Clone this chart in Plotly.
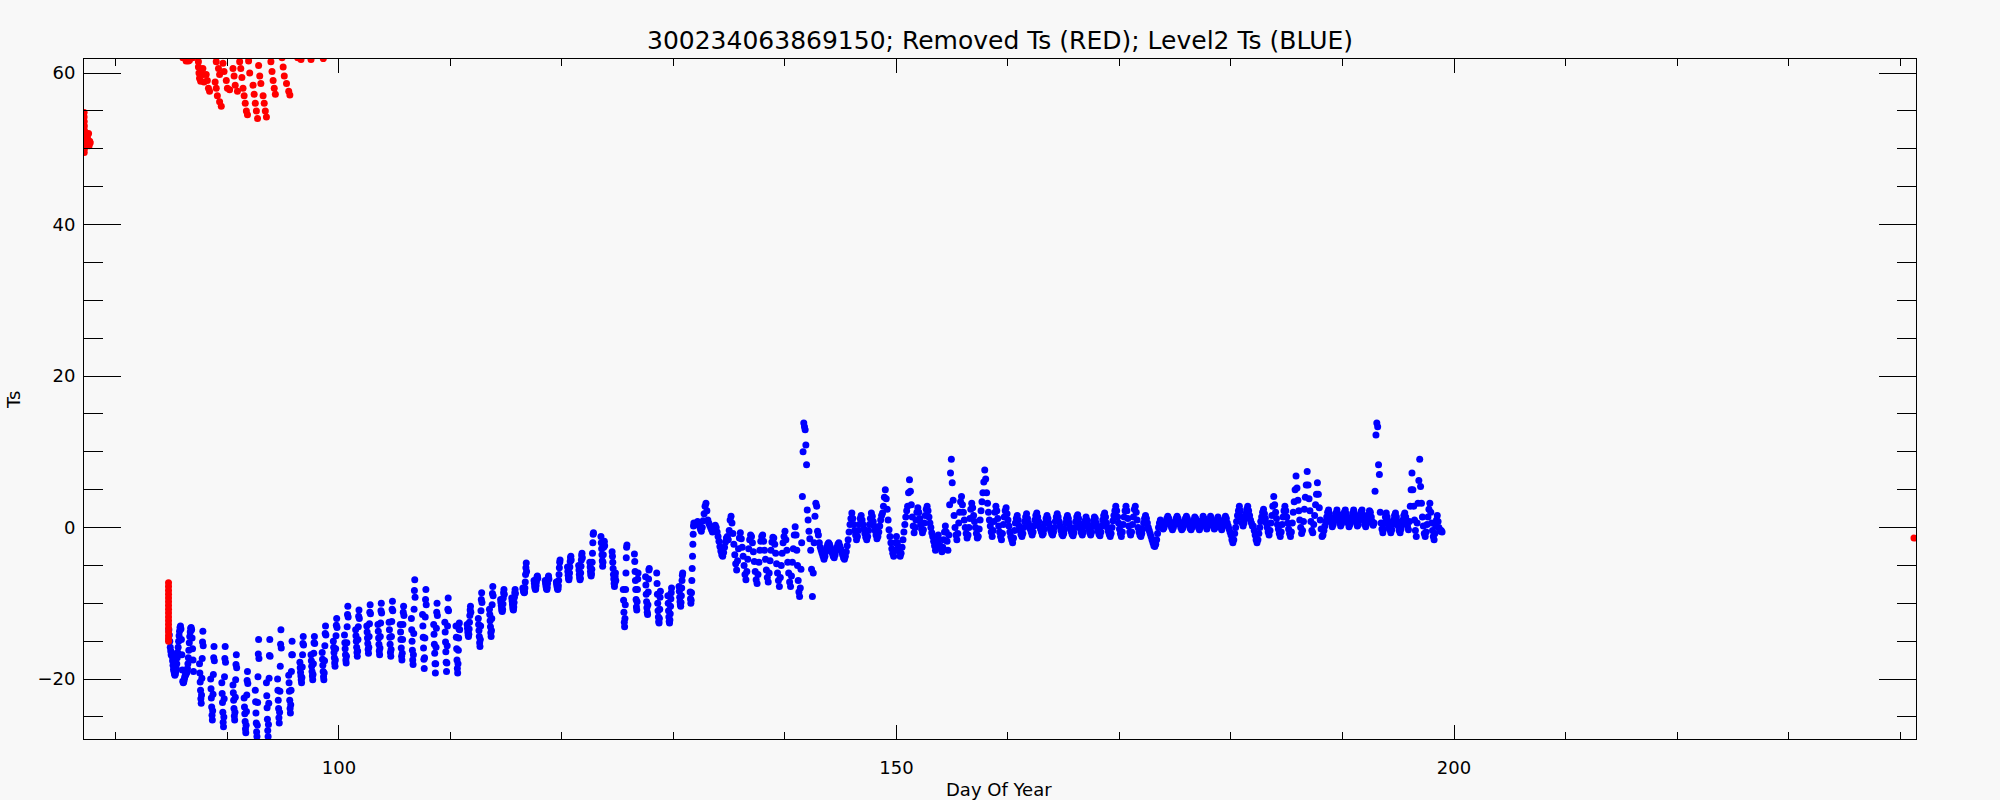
import math
import plotly.graph_objects as go

# ---------------- data ----------------
# Level2 Ts (blue): start day of each (partial) day, and the readings of that day
# block 0: continuous hourly record at the start
blue_days_0 = [84.75, 85, 86]
blue_ts_0 = [
    [-13.5, -14.2, -15.0, -15.8, -16.3, -16.8],
    [-16.5, -17.0, -17.6, -18.2, -18.7, -19.0, -19.3, -19.5, -19.3, -19.0, -18.6, -18.0,
     -17.2, -16.5, -15.8, -15.0, -14.3, -13.7, -13.2, -13.0, -13.4, -14.8, -16.8, -18.8],
    [-20.3, -20.5, -20.4, -20.1, -19.8, -19.6, -19.4, -19.3, -19.2, -19.0, -18.6, -18.0,
     -17.2, -16.2, -15.2, -14.4, -13.8, -13.3, -13.2, -13.5, -14.6, -16.0, -17.5, -19.0],
]

# blocks 1-2: readings arrive in daily bursts
blue_days_1 = [87, 88, 89, 90, 91, 92, 93, 94, 95, 96, 97, 98, 99, 100, 101, 102, 103, 104]
blue_ts_1 = [
    [-18.0, -19.2, -20.4, -21.5, -22.6, -23.2, -22.1, -19.9, -17.3, -15.1, -13.7, -15.6],
    [-20.0, -21.3, -22.5, -23.7, -24.8, -25.4, -24.2, -22.0, -19.4, -17.2, -15.7, -17.6],
    [-20.5, -21.9, -23.1, -24.4, -25.7, -26.3, -25.0, -22.6, -19.7, -17.3, -15.7, -17.8],
    [-20.8, -21.8, -22.8, -23.9, -24.9, -25.4, -24.4, -22.4, -20.1, -18.1, -16.8, -18.5],
    [-22.5, -23.7, -24.6, -25.6, -26.6, -27.1, -26.1, -24.3, -22.1, -20.2, -19.0, -20.6],
    [-21.5, -23.0, -24.5, -25.8, -27.0, -27.6, -26.1, -23.1, -19.7, -16.7, -14.8, -17.3],
    [-20.5, -22.2, -23.8, -25.3, -26.8, -27.6, -26.0, -23.2, -19.9, -16.9, -14.8, -17.0],
    [-20.0, -21.5, -22.8, -23.9, -25.1, -25.8, -24.4, -21.6, -18.3, -15.4, -13.5, -15.9],
    [-19.5, -20.5, -21.6, -22.8, -23.9, -24.5, -23.4, -21.5, -19.0, -16.8, -15.0, -16.8],
    [-17.8, -18.5, -19.1, -19.6, -20.1, -20.5, -19.8, -18.4, -16.8, -15.3, -14.4, -15.5],
    [-16.8, -17.6, -18.3, -19.0, -19.6, -20.1, -19.4, -18.0, -16.6, -15.2, -14.4, -15.3],
    [-16.5, -17.4, -18.2, -19.0, -19.7, -20.1, -19.2, -17.6, -15.6, -14.0, -13.0, -14.2],
    [-15.0, -15.8, -16.5, -17.2, -17.9, -18.3, -17.5, -16.0, -14.3, -12.9, -12.0, -13.2],
    [-14.2, -15.2, -16.0, -16.8, -17.5, -17.9, -17.0, -15.2, -13.1, -11.5, -10.4, -11.8],
    [-13.5, -14.3, -15.0, -15.8, -16.5, -17.0, -16.3, -14.8, -13.1, -11.7, -10.9, -12.0],
    [-13.0, -13.8, -14.6, -15.3, -16.1, -16.6, -15.8, -14.4, -12.7, -11.2, -10.2, -11.4],
    [-12.8, -13.7, -14.6, -15.4, -16.3, -16.8, -15.9, -14.4, -12.6, -11.0, -10.0, -11.3],
    [-12.5, -13.5, -14.5, -15.4, -16.5, -17.0, -16.1, -14.4, -12.4, -10.8, -9.75, -11.0],
]

blue_days_2 = [105, 106, 107, 108, 109, 110, 111, 112, 113, 114, 115, 116, 117, 118, 119,
               120, 121, 122, 123, 124, 125, 126, 127, 128, 129, 130, 131]
blue_ts_2 = [
    [-12.8, -13.8, -14.8, -15.9, -17.0, -17.5, -16.6, -14.8, -12.8, -11.2, -10.4, -11.6],
    [-12.0, -13.5, -15.0, -16.2, -17.5, -18.1, -16.8, -14.0, -10.8, -8.3, -6.9, -9.2],
    [-11.5, -13.0, -14.5, -15.9, -17.4, -18.6, -17.2, -14.6, -11.8, -9.5, -8.2, -10.2],
    [-12.8, -14.1, -15.4, -16.6, -18.0, -19.2, -18.0, -15.8, -13.3, -11.2, -10.0, -11.6],
    [-12.5, -13.8, -15.1, -16.4, -17.8, -19.0, -17.9, -15.6, -13.0, -10.8, -9.3, -11.0],
    [-13.0, -14.5, -16.0, -17.5, -18.6, -19.2, -18.0, -16.2, -14.6, -13.4, -12.6, -13.5],
    [-12.8, -13.3, -13.8, -14.2, -14.4, -14.1, -13.4, -12.5, -11.6, -10.9, -10.4, -11.2],
    [-12.0, -12.8, -13.6, -14.4, -15.2, -15.7, -14.8, -13.0, -11.0, -9.5, -8.6, -9.9],
    [-10.8, -11.5, -12.3, -13.1, -13.9, -14.4, -13.6, -12.0, -10.2, -8.7, -7.8, -9.0],
    [-9.5, -9.9, -10.3, -10.7, -11.0, -11.1, -10.8, -10.1, -9.3, -8.6, -8.2, -8.8],
    [-9.3, -9.7, -10.1, -10.5, -10.8, -10.9, -10.5, -9.9, -9.2, -8.6, -8.2, -8.7],
    [-8.0, -8.2, -8.4, -8.5, -8.6, -8.5, -8.0, -7.2, -6.2, -5.3, -4.7, -5.8],
    [-7.0, -7.4, -7.8, -8.0, -8.2, -8.1, -7.7, -7.2, -6.8, -6.5, -6.4, -6.7],
    [-7.0, -7.3, -7.6, -7.9, -8.1, -8.2, -7.9, -7.4, -6.9, -6.6, -6.4, -6.8],
    [-7.2, -7.5, -7.8, -8.0, -8.2, -8.1, -7.7, -7.0, -6.2, -5.3, -4.6, -4.3],
    [-5.2, -5.8, -6.3, -6.7, -6.9, -6.6, -6.0, -5.2, -4.5, -4.0, -3.8, -4.3],
    [-5.0, -5.6, -6.2, -6.6, -6.9, -6.7, -6.0, -5.1, -4.3, -3.7, -3.4, -4.0],
    [-4.6, -5.2, -5.8, -6.2, -6.4, -6.1, -5.5, -4.6, -3.4, -2.0, -0.9, -0.7],
    [-1.2, -2.0, -2.8, -3.6, -4.4, -5.1, -4.6, -3.6, -2.6, -2.0, -1.8, -2.4],
    [-3.2, -3.8, -4.6, -5.4, -6.2, -6.8, -7.4, -7.8, -7.3, -6.5, -6.0, -7.0],
    [-8.2, -9.6, -11.2, -12.5, -13.1, -12.0, -10.2, -8.2, -6.0, -4.0, -2.6, -2.3],
    [-3.5, -4.5, -5.8, -7.0, -8.2, -9.5, -10.5, -10.9, -9.8, -8.2, -6.8, -6.0],
    [-6.5, -7.6, -8.8, -9.8, -10.6, -11.2, -11.5, -10.2, -8.5, -6.8, -5.6, -5.4],
    [-6.0, -7.4, -8.8, -10.0, -11.0, -11.8, -12.4, -12.6, -12.0, -10.8, -9.2, -8.4],
    [-9.0, -10.0, -11.0, -11.8, -12.4, -12.6, -12.2, -11.4, -10.4, -9.4, -8.6, -8.0],
    [-7.8, -8.4, -9.2, -9.8, -10.2, -10.4, -9.9, -9.0, -8.0, -7.0, -6.3, -6.0],
    [-8.5, -9.4, -10.0, -9.6, -8.6, -7.0, -5.4, -3.8, -2.2, -0.9, 0.2, 0.6],
]

# blocks 3-4: regular readings through the day
blue_days_3 = [132, 133, 134, 135, 136, 137, 138, 139, 140, 141, 142, 143, 144, 145, 146,
               147, 148, 149, 150, 151, 152, 153, 154, 155, 156, 157, 158, 159, 160]
blue_ts_3 = [
    [0.4, 0.6, 0.8, 0.5, 0.2, -0.2, -0.5, 0.0, 0.9, 1.8, 2.8, 3.2],
    [2.2, 1.0, 0.6, 0.3, 0.0, -0.3, -0.6, -0.4, 0.0, 0.3, 0.0, -0.6],
    [-1.2, -1.8, -2.5, -3.1, -3.6, -3.8, -3.3, -2.6, -1.9, -1.4, -1.2, -1.6],
    [-0.4, 1.0, 1.5, 0.6, -0.8, -2.2, -3.6, -4.8, -5.6, -4.4, -2.8, -1.4],
    [-0.7, -1.5, -2.6, -3.8, -5.0, -6.2, -6.9, -5.8, -4.2, -2.8, -1.6, -1.0],
    [-1.2, -2.0, -3.2, -4.5, -5.8, -6.9, -7.4, -6.2, -4.6, -3.0, -1.8, -1.2],
    [-1.0, -1.8, -3.0, -4.2, -5.6, -6.6, -7.2, -6.0, -4.4, -3.0, -1.9, -1.3],
    [-1.4, -2.2, -3.4, -4.8, -6.0, -7.0, -7.8, -6.6, -5.0, -3.4, -2.0, -1.2],
    [-0.5, -1.6, -3.0, -4.6, -6.0, -7.2, -7.8, -6.4, -4.6, -2.8, -1.0, 0.1],
    [-1.0, -3.0, -5.0, -7.0, -8.5, -9.1, -8.0, -5.5, -2.0, 4.1, 10.0, 13.8, 13.3, 12.9, 10.9, 8.3],
    [2.3, 1.0, -0.5, -1.5, -3.0, -5.5, -9.1, -6.0, -2.0, 1.5, 3.2, 2.8, -0.5],
    [-1.0, -2.0, -2.6, -3.0, -3.4, -3.8, -4.2, -3.8, -3.2, -2.6, -2.2, -2.0],
    [-2.2, -2.6, -3.0, -3.4, -3.8, -4.0, -3.6, -3.0, -2.6, -2.2, -2.0, -2.4],
    [-2.8, -3.2, -3.6, -4.0, -4.2, -3.8, -3.2, -2.4, -1.6, -0.6, 0.4, 1.2],
    [1.9, 1.2, 0.4, -0.4, -1.0, -1.6, -1.2, -0.4, 0.4, 1.2, 1.6, 1.0],
    [0.4, -0.2, -0.8, -1.3, -1.6, -1.2, -0.4, 0.4, 1.2, 1.9, 1.5, 0.8],
    [0.2, -0.4, -1.0, -1.5, -1.2, -0.6, 0.2, 1.0, 1.6, 1.9, 2.8, 4.0],
    [5.0, 3.8, 2.4, 1.0, -0.3, -1.2, -2.0, -2.8, -3.4, -3.8, -3.0, -2.0],
    [-1.2, -2.0, -2.6, -3.2, -3.8, -3.4, -2.6, -1.6, -0.6, 0.4, 1.4, 2.2],
    [2.8, 4.6, 6.3, 4.8, 3.0, 1.4, 0.2, -0.7, 0.0, 1.0, 2.0, 2.6],
    [2.0, 1.2, 0.4, -0.2, -0.7, -0.3, 0.6, 1.6, 2.4, 2.8, 2.2, 1.4],
    [0.6, 0.0, -0.7, -1.2, -1.8, -2.4, -3.0, -2.6, -1.8, -1.0, -1.6, -2.4],
    [-2.8, -3.2, -2.6, -1.6, -0.6, 0.2, -0.6, -1.8, -3.0, -1.0, 3.0, 7.2, 9.0],
    [5.9, 3.6, 1.6, 0.0, -1.0, -1.6, -0.8, 0.6, 2.0, 3.4, 4.1, 3.0],
    [2.0, 1.0, 0.0, -0.8, -1.4, -1.0, 0.0, 1.2, 2.4, 3.2, 2.6, 1.6],
    [0.8, 0.0, -0.8, -1.4, -1.2, -0.2, 1.0, 2.2, 3.4, 4.6, 6.0, 7.6],
    [6.4, 4.6, 3.2, 2.0, 1.0, 0.2, -0.6, -1.2, -0.4, 0.8, 2.0, 2.8],
    [2.2, 1.2, 0.2, -0.6, -1.2, -1.6, -0.8, 0.4, 1.4, 2.2, 2.6, 1.8],
    [1.0, 0.2, -0.6, -1.2, -1.6, -2.0, -1.4, -0.4, 0.6, 1.2, 1.6, 1.0],
]

blue_days_4 = [161, 162, 163, 164, 165, 166, 167, 168, 169, 170, 171, 172, 173, 174, 175,
               176, 177, 178, 179, 180, 181, 182, 183, 184, 185, 186, 187, 188, 189, 190,
               191, 192, 193, 194, 195, 196, 197, 198]
blue_ts_4 = [
    [0.2, -0.4, -0.9, -1.2, -0.8, 0.0, 0.8, 1.4, 1.8, 1.2, 0.6, 0.2],
    [-0.2, -0.6, -1.0, -0.6, 0.2, 1.0, 1.6, 1.9, 1.4, 0.8, 0.2, -0.2],
    [-0.6, -1.0, -0.8, -0.2, 0.6, 1.2, 1.6, 1.2, 0.6, 0.0, -0.4, -0.8],
    [-1.0, -0.6, 0.0, 0.8, 1.4, 1.8, 1.4, 0.8, 0.2, -0.4, -0.9, -1.1],
    [-0.8, -0.2, 0.6, 1.2, 1.6, 1.2, 0.6, 0.0, -0.5, -0.9, -1.1, -0.7],
    [0.0, 0.8, 1.4, 1.7, 1.2, 0.5, -0.2, -0.7, -1.0, -0.6, 0.2, 0.9],
    [1.4, 1.0, 0.4, -0.2, -0.7, -1.0, -0.6, 0.2, 0.9, 1.4, 1.2, 0.6],
    [0.0, -0.5, -0.9, -1.1, -0.6, 0.2, 1.0, 1.6, 1.9, 1.4, 0.6, 0.0],
    [-0.5, -0.9, -1.2, -0.8, 0.0, 0.9, 1.6, 2.2, 2.8, 2.2, 1.4, 0.6],
    [-0.2, -0.8, -1.2, -0.6, 0.4, 1.4, 2.2, 2.8, 2.2, 1.2, 0.2, -0.6],
    [-1.0, -0.6, 0.4, 1.4, 2.4, 2.8, 2.0, 1.0, 0.0, -0.6, -1.0, -1.2],
    [-0.8, -0.2, 0.6, 1.2, 1.6, 1.2, 0.6, 0.0, -0.4, -0.8, -1.2, -1.6],
    [-2.0, -2.4, -2.5, -2.2, -1.6, -0.8, 0.0, 0.6, 1.0, 0.6, 0.2, -0.2],
    [0.0, 0.4, 0.8, 1.2, 1.5, 1.2, 0.8, 0.4, 0.0, -0.3, 0.0, 0.4],
    [0.8, 1.2, 1.5, 1.2, 0.8, 0.4, 0.0, -0.3, -0.1, 0.3, 0.8, 1.2],
    [1.5, 1.2, 0.8, 0.3, -0.1, -0.3, 0.0, 0.5, 1.0, 1.4, 1.2, 0.8],
    [0.4, 0.0, -0.3, 0.0, 0.5, 1.0, 1.5, 1.2, 0.7, 0.2, -0.2, 0.2],
    [0.6, 1.0, 1.5, 1.2, 0.7, 0.2, -0.2, 0.0, 0.5, 1.0, 1.4, 1.0],
    [0.5, 0.0, -0.3, 0.1, 0.6, 1.1, 1.5, 1.2, 0.6, 0.2, -0.2, -0.6],
    [-1.0, -1.6, -2.0, -1.6, -0.8, 0.0, 0.8, 1.6, 2.2, 2.8, 2.2, 1.4],
    [0.6, 0.2, 0.6, 1.2, 1.8, 2.4, 2.8, 2.2, 1.6, 1.0, 0.6, 0.2],
    [0.2, -0.4, -1.0, -1.6, -2.0, -1.6, -0.8, 0.0, 0.8, 1.4, 2.0, 2.4],
    [1.8, 1.2, 0.6, 0.0, -0.6, -1.0, -0.4, 0.6, 1.6, 2.8, 4.1, 3.0],
    [2.0, 1.2, 0.4, -0.2, -0.8, -1.2, -0.6, 0.4, 1.4, 2.2, 2.8, 2.2],
    [1.4, 0.6, -0.2, -0.8, -1.2, -0.6, 0.6, 2.0, 3.4, 5.0, 6.8, 5.2],
    [3.6, 2.2, 1.0, 0.0, -0.8, -0.4, 0.8, 2.4, 4.0, 5.6, 7.4, 5.6],
    [3.8, 2.2, 0.8, -0.4, -0.7, 0.4, 1.6, 3.0, 4.4, 5.9, 4.4, 2.6],
    [1.0, -0.2, -1.2, -1.0, -0.4, 0.2, 0.8, 1.4, 2.0, 2.3, 1.8, 1.2],
    [0.6, 0.1, 0.4, 0.9, 1.4, 1.9, 2.3, 1.8, 1.2, 0.6, 0.2, 0.5],
    [1.0, 1.5, 2.0, 2.3, 1.8, 1.2, 0.6, 0.1, 0.4, 0.9, 1.4, 1.9],
    [2.3, 1.8, 1.2, 0.6, 0.2, 0.4, 1.0, 1.6, 2.1, 2.3, 1.7, 1.0],
    [0.4, 0.1, 0.5, 1.1, 1.7, 2.2, 2.0, 1.4, 0.8, 0.3, 0.6, 4.8],
    [12.2, 13.8, 13.3, 8.3, 7.0, 2.0, 0.6, -0.2, -0.7, -0.2, 0.6, 1.4, 1.9],
    [1.4, 0.8, 0.2, -0.3, -0.7, -0.3, 0.4, 1.0, 1.6, 1.9, 1.4, 0.8],
    [0.2, -0.4, -0.7, -0.2, 0.4, 1.0, 1.6, 1.9, 1.4, 0.8, 0.2, -0.3],
    [0.8, 2.8, 5.0, 7.2, 5.0, 2.8, 1.0, -0.4, -1.2, 0.6, 3.2, 6.2, 9.0],
    [5.4, 3.2, 1.4, 0.2, -0.8, -1.2, -0.6, 0.4, 1.4, 2.4, 3.2, 2.0],
    [0.6, -0.4, -1.2, -1.6, -0.8, 0.2, 1.0, 1.6, 0.8, 0.0, -0.3, -0.5, -0.4, -0.6],
]

# time window (fraction of a day) in which each block's daily readings fall
burst_start = 0.5     # blocks 1-2: readings start at this time of day ...
burst_length = 0.36   # ... and last this fraction of a day

# Removed Ts (red): individual readings
red_doy = [77.15, 77.15, 77.16, 77.17, 77.18, 77.2, 77.22, 77.2, 77.18, 77.16, 77.45, 77.55, 77.65, 77.7, 77.6,
           84.72, 84.72, 84.72, 84.72, 84.72, 84.72, 84.72, 84.72, 84.72, 84.72, 84.72, 84.72, 84.72, 84.72, 84.72, 84.72, 84.72,
           86.0, 86.3, 86.5, 86.6, 86.9,
           87.4, 87.4, 87.45, 87.5, 87.6, 87.8, 87.85, 87.9,
           88.1, 88.2, 88.3, 88.4, 88.9, 89.0, 89.1, 89.3, 89.45, 89.0, 89.2, 89.3,
           89.6, 89.7, 89.9, 90.0, 90.2, 90.5, 90.6, 90.7, 90.9,
           91.1, 91.2, 91.3, 91.4, 91.5, 91.6, 91.7, 91.8, 91.9, 92.0,
           92.3, 92.4, 92.5, 92.6, 92.7, 92.8, 92.9, 93.0, 93.2, 93.3, 93.4, 93.5,
           93.9, 94.0, 94.1, 94.2, 94.3, 94.9, 95.0, 95.1, 95.3, 95.5, 95.6,
           96.3, 96.6, 97.5, 98.6,
           241.25]
red_ts = [54.8, 54.2, 53.6, 53.0, 52.4, 51.8, 51.2, 50.6, 50.0, 49.5, 51.5, 52.0, 51.0, 50.8, 50.4,
          -7.3, -7.8, -8.3, -8.8, -9.3, -9.8, -10.3, -10.8, -11.3, -11.8, -12.3, -12.8, -13.3, -13.8, -14.3, -14.7, -15.0,
          62.0, 61.6, 61.6, 61.7, 62.0,
          61.5, 60.8, 60.0, 59.3, 58.9, 60.6, 59.8, 58.8,
          59.8, 59.0, 58.0, 57.6, 58.8, 58.0, 57.0, 56.2, 55.6, 61.5, 60.6, 59.8,
          61.3, 60.2, 59.0, 58.0, 57.8, 60.6, 59.6, 58.4, 57.6,
          61.5, 60.6, 59.4, 58.0, 57.0, 56.0, 55.0, 54.5, 61.6, 60.0,
          58.4, 57.2, 56.0, 55.0, 54.0, 61.0, 59.6, 58.6, 57.0, 56.0, 55.0, 54.2,
          61.5, 60.2, 59.0, 58.0, 57.2, 62.0, 60.8, 59.6, 58.6, 57.6, 57.1,
          62.0, 61.8, 61.8, 61.9,
          -1.4]

x_ticks = [100, 150, 200]
y_ticks = [-20, 0, 20, 40, 60]


def expand_full(days, vals):
    """Readings spread evenly from the start day to the end of that day."""
    xs, ys = [], []
    for d, v in zip(days, vals):
        step = (math.floor(d) + 1 - d) / len(v)
        for i, y in enumerate(v):
            xs.append(d + i * step)
            ys.append(y)
    return xs, ys


def expand_burst(days, vals, start, length):
    """Readings clustered in a daily transmission window."""
    xs, ys = [], []
    for d, v in zip(days, vals):
        step = length / len(v)
        for i, y in enumerate(v):
            xs.append(d + start + i * step)
            ys.append(y)
    return xs, ys


bx, by = [], []
for dd, vv in [(blue_days_0, blue_ts_0), (blue_days_3, blue_ts_3), (blue_days_4, blue_ts_4)]:
    a, b = expand_full(dd, vv)
    bx += a
    by += b
for dd, vv in [(blue_days_1, blue_ts_1), (blue_days_2, blue_ts_2)]:
    a, b = expand_burst(dd, vv, burst_start, burst_length)
    bx += a
    by += b

FONT = "DejaVu Sans"

fig = go.Figure()
fig.add_trace(go.Scatter(x=bx, y=by, mode="markers",
                         marker=dict(color="#0000ff", size=7, line=dict(width=0)),
                         showlegend=False))
fig.add_trace(go.Scatter(x=red_doy, y=red_ts, mode="markers",
                         marker=dict(color="#ff0000", size=7, line=dict(width=0)),
                         showlegend=False))

axis_common = dict(showgrid=False, zeroline=False, showline=True, linecolor="black",
                   linewidth=1, mirror="allticks", ticks="inside", tickcolor="black",
                   tickwidth=1, tickfont=dict(family=FONT, size=18, color="black"))

fig.update_xaxes(range=[77.14, 241.43], tickvals=x_ticks, ticklen=14,
                 minor=dict(dtick=10, tick0=0, ticklen=7, ticks="inside", tickcolor="black", tickwidth=1),
                 ticklabelstandoff=12, **axis_common)
fig.update_yaxes(range=[-27.92, 61.85], tickvals=y_ticks, ticklen=37,
                 minor=dict(dtick=5, tick0=0, ticklen=19, ticks="inside", tickcolor="black", tickwidth=1),
                 ticklabelstandoff=4, **axis_common)

fig.update_layout(
    width=2000, height=800,
    margin=dict(l=84, r=84, t=59, b=61),
    paper_bgcolor="#f8f8f8", plot_bgcolor="#f8f8f8",
    font=dict(family=FONT, color="black"),
    annotations=[
        dict(text="300234063869150; Removed Ts (RED); Level2 Ts (BLUE)", xref="paper", yref="paper",
             x=0.5, y=1 + 19 / 680, xanchor="center", yanchor="middle", showarrow=False,
             font=dict(family=FONT, size=25, color="black")),
        dict(text="Day Of Year", xref="paper", yref="paper", x=0.4995, y=-50 / 680,
             xanchor="center", yanchor="middle", showarrow=False,
             font=dict(family=FONT, size=18, color="black")),
        dict(text="Ts", xref="paper", yref="paper", x=-71 / 1832, y=0.4985, textangle=-90,
             xanchor="center", yanchor="middle", showarrow=False,
             font=dict(family=FONT, size=18, color="black")),
    ],
)

fig.write_html("out.html", config={"displayModeBar": False},
               post_script="document.body.style.margin='0';document.body.style.background='#f8f8f8';")
